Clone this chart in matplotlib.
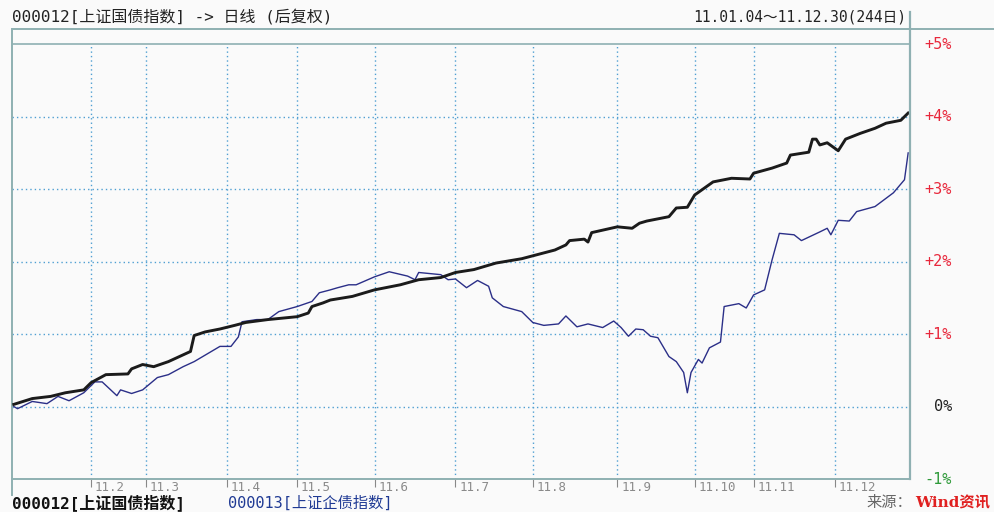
import matplotlib
matplotlib.use("Agg")
import matplotlib.pyplot as plt
from matplotlib.lines import Line2D

MONO = ['DejaVu Sans Mono', 'Noto Sans CJK SC']
plt.rcParams['font.family'] = ['Noto Sans CJK SC', 'DejaVu Sans']

# ---------------- data (trading-day index, % change) ----------------
gz_day = [0, 5, 10, 14, 19, 21, 25, 31, 32, 35, 38, 42, 45, 48, 49, 52, 56, 60, 63, 69,
          73, 77, 80, 81, 84, 86, 92, 98, 101, 105, 110, 116, 120, 125, 131, 138, 141, 147,
          150, 151, 155, 156, 157, 164, 168, 170, 172, 176, 178, 180, 183, 185, 190, 195,
          200, 201, 206, 210, 211, 216, 217, 218, 219, 221, 224, 226, 230, 234, 237, 241, 243]
gz_val = [0.03, 0.11, 0.14, 0.19, 0.23, 0.33, 0.44, 0.45, 0.52, 0.58, 0.55, 0.62, 0.69, 0.76,
          0.98, 1.03, 1.07, 1.12, 1.16, 1.20, 1.22, 1.24, 1.29, 1.38, 1.43, 1.47, 1.52, 1.61,
          1.64, 1.68, 1.75, 1.78, 1.85, 1.89, 1.98, 2.04, 2.08, 2.16, 2.23, 2.29, 2.31, 2.27,
          2.40, 2.48, 2.46, 2.53, 2.56, 2.60, 2.62, 2.74, 2.75, 2.92, 3.10, 3.15, 3.14, 3.22,
          3.29, 3.36, 3.47, 3.51, 3.69, 3.69, 3.61, 3.64, 3.53, 3.69, 3.77, 3.84, 3.91, 3.95,
          4.05]

qz_day = [0, 1, 5, 9, 12, 15, 19, 22, 24, 28, 29, 32, 35, 39, 42, 46, 49, 53, 56, 59, 61,
          62, 66, 69, 72, 77, 81, 83, 86, 88, 91, 93, 98, 102, 107, 109, 110, 116, 118, 120,
          123, 126, 129, 130, 133, 138, 141, 144, 148, 150, 153, 156, 160, 163, 165, 167,
          169, 171, 173, 175, 178, 180, 182, 183, 184, 186, 187, 189, 192, 193, 197, 199,
          201, 204, 206, 208, 212, 214, 219, 221, 222, 224, 227, 229, 234, 239, 242, 243]
qz_val = [0.00, -0.03, 0.07, 0.04, 0.14, 0.08, 0.19, 0.34, 0.34, 0.15, 0.23, 0.18, 0.23,
          0.40, 0.44, 0.55, 0.62, 0.74, 0.83, 0.83, 0.96, 1.17, 1.20, 1.20, 1.31, 1.38, 1.45,
          1.57, 1.61, 1.64, 1.68, 1.68, 1.79, 1.86, 1.80, 1.75, 1.85, 1.82, 1.75, 1.76, 1.64,
          1.74, 1.66, 1.50, 1.38, 1.31, 1.16, 1.12, 1.14, 1.25, 1.10, 1.14, 1.09, 1.18, 1.09,
          0.97, 1.07, 1.06, 0.97, 0.95, 0.69, 0.62, 0.47, 0.19, 0.47, 0.65, 0.60, 0.81, 0.89,
          1.38, 1.42, 1.36, 1.54, 1.61, 2.02, 2.39, 2.37, 2.29, 2.41, 2.46, 2.37, 2.57, 2.56,
          2.69, 2.76, 2.95, 3.13, 3.50]

month_pos = [21, 36, 58, 77, 98, 120, 141, 164, 185, 201, 223]
month_labels = ['11.2', '11.3', '11.4', '11.5', '11.6', '11.7', '11.8', '11.9',
                '11.10', '11.11', '11.12']

y_levels = [5, 4, 3, 2, 1, 0, -1]
y_labels = ['+5%', '+4%', '+3%', '+2%', '+1%', '0%', '-1%']
y_label_colors = ['#e8283c'] * 5 + ['#222222', '#2f9a3a']

title_left = '000012[上证国债指数] -> 日线 (后复权)'
title_right = '11.01.04～11.12.30(244日)'
legend_1 = '000012[上证国债指数]'
legend_2 = '000013[上证企债指数]'

# ---------------- figure ----------------
W, H = 995, 512
fig = plt.figure(figsize=(W / 100, H / 100), dpi=100, facecolor='#fafafa')

def fx(px):
    return px / W

def fy(py):
    return 1 - py / H

left_px, right_px, top_px, bot_px = 12, 910, 29, 479
ax = fig.add_axes([fx(left_px), fy(bot_px), fx(right_px - left_px), (bot_px - top_px) / H])
ax.set_facecolor('#fafafa')

ymin, ymax = -1, 5.21
ax.set_ylim(ymin, ymax)
ax.set_xlim(-0.5, 243.5)

frame = '#8fb0b2'
for s in ax.spines.values():
    s.set_color(frame)
    s.set_linewidth(1.4)
ax.spines['right'].set_visible(False)

grid_c = '#4f9fd2'
for lv in [4, 3, 2, 1, 0]:
    ax.axhline(lv, color=grid_c, lw=1.0, ls=(0, (1, 2.2)), zorder=1)
ax.axhline(5, color=frame, lw=1.2, zorder=1)
ax.vlines(month_pos, ymin, 5, colors=grid_c, lw=1.0, linestyles=[(0, (1, 2.2))], zorder=1)

ax.plot(qz_day, qz_val, color='#2b2f88', lw=1.0, zorder=3)
ax.plot(gz_day, gz_val, color='#1b1b1b', lw=2.1, zorder=4, solid_joinstyle='round')

ax.set_yticks([])
ax.set_xticks(month_pos)
ax.tick_params(axis='x', direction='out', length=6, width=0.8, color='#888888',
               labelbottom=False, pad=0)
xt = ax.get_xaxis_transform()
for p, lab in zip(month_pos, month_labels):
    ax.text(p + 1.0, -0.004, lab, transform=xt, ha='left', va='top', fontsize=9,
            color='#8a8a8a', family=MONO)

# right axis labels
yt = ax.get_yaxis_transform()
for lv, lab, c in zip(y_levels, y_labels, y_label_colors):
    ax.text(1.0 + 42 / (right_px - left_px), lv, lab, transform=yt, ha='right', va='center',
            fontsize=11, color=c, family=MONO)

# extra frame lines
fig.add_artist(Line2D([fx(right_px), fx(right_px)], [fy(12), fy(bot_px)], color=frame, lw=1.6))
fig.add_artist(Line2D([fx(right_px), 1.0], [fy(top_px), fy(top_px)], color=frame, lw=1.4))
fig.add_artist(Line2D([fx(left_px), fx(left_px)], [fy(bot_px), fy(495)], color=frame, lw=1.4))

# titles
fig.text(fx(12), fy(17), title_left, ha='left', va='center', fontsize=11.5, color='#222222',
         family=MONO)
fig.text(fx(906), fy(17), title_right, ha='right', va='center', fontsize=10.5,
         color='#222222', family=MONO)

# legend / source
fig.text(fx(12), fy(503), legend_1, ha='left', va='center', fontsize=11.5, color='#111111',
         fontweight='bold', family=MONO)
fig.text(fx(228), fy(503), legend_2, ha='left', va='center', fontsize=11, color='#1f3a94',
         family=MONO)
fig.text(fx(866), fy(503), '来源：', ha='left', va='center', fontsize=11, color='#666666')
fig.text(fx(990), fy(503), 'Wind资讯', ha='right', va='center', fontsize=11, color='#e02020',
         fontweight='bold', family=['DejaVu Serif', 'Noto Sans CJK SC'])

fig.savefig('out.png', dpi=100, facecolor=fig.get_facecolor())
